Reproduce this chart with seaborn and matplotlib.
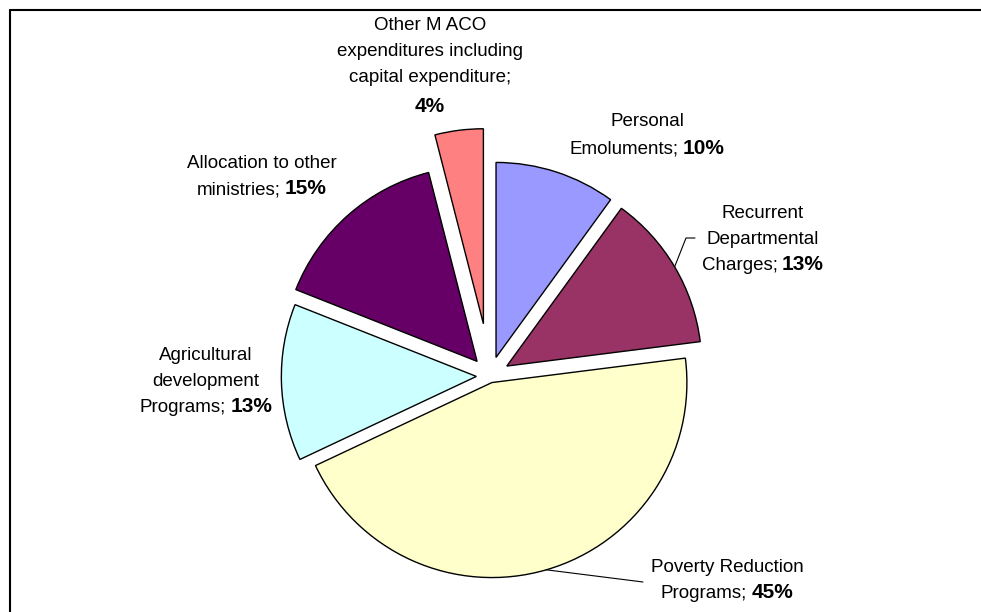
import numpy as np
import matplotlib
matplotlib.use("Agg")
from matplotlib import pyplot as plt
from matplotlib.lines import Line2D
from matplotlib.offsetbox import TextArea, HPacker, AnnotationBbox
import seaborn as sns

# Data
names = ["Personal\nEmoluments", "Recurrent\nDepartmental\nCharges",
         "Poverty Reduction\nPrograms", "Agricultural\ndevelopment\nPrograms",
         "Allocation to other\nministries",
         "Other M ACO\nexpenditures including\ncapital expenditure"]
shares = [10, 13, 45, 13, 15, 4]
colors = ["#9999FF", "#993366", "#FFFFCC", "#CCFFFF", "#660066", "#FF8080"]
explode = [0.1, 0.1, 0.035, 0.07, 0.1, 0.27]  # fraction of radius

# label layout (pixel coords: x, y of first line)
label_pos = [(647, 122), (763, 213), (727, 567), (206, 355), (262, 163), (430, 25)]
line_h = 26
pct_on_new_line = [False, False, False, False, False, True]
# leader lines: elbow/end points in pixels, or None
leaders = [None, [(686, 238), (695, 238)], [(643, 582)], None, None, None]

W, H = 981, 612
cx, cy, R = 490, H - 376, 195

sns.set_theme(style="white")
plt.rcParams['font.family'] = ['Liberation Sans', 'DejaVu Sans']

fig = plt.figure(figsize=(W / 100, H / 100), dpi=100)
ax = fig.add_axes([0, 0, 1, 1])

# matplotlib's explode is in data units, so scale by the radius
wedges, _ = ax.pie(shares, colors=colors, explode=[e * R for e in explode],
                   startangle=90, counterclock=False, center=(cx, cy), radius=R,
                   wedgeprops=dict(edgecolor='black', linewidth=1.0))
ax.set_xlim(0, W)
ax.set_ylim(0, H)
ax.set_aspect('equal')
ax.axis('off')


def put_line(parts, x, py):
    # parts: list of (text, bold)
    boxes = []
    for txt, bold in parts:
        if bold:
            ta = TextArea(txt, textprops=dict(fontsize=15, fontweight='bold', color='black'))
        else:
            ta = TextArea(txt, textprops=dict(fontsize=13.5, color='black'))
        boxes.append(ta)
    pack = HPacker(children=boxes, align='baseline', pad=0, sep=3)
    ab = AnnotationBbox(pack, (x, H - py), frameon=False, box_alignment=(0.5, 0.5),
                        pad=0)
    ax.add_artist(ab)


for i, w in enumerate(wedges):
    lines = names[i].split("\n")
    pct = f"{shares[i]}%"
    x, y0 = label_pos[i]
    for j, ln in enumerate(lines):
        last = j == len(lines) - 1
        if last and not pct_on_new_line[i]:
            put_line([(ln + ";", False), (pct, True)], x, y0 + j * line_h)
        elif last:
            put_line([(ln + ";", False)], x, y0 + j * line_h)
            put_line([(pct, True)], x, y0 + (j + 1) * line_h + 3)
        else:
            put_line([(ln, False)], x, y0 + j * line_h)

    if leaders[i] is not None:
        mid = np.deg2rad((w.theta1 + w.theta2) / 2)
        sx = w.center[0] + w.r * np.cos(mid)
        sy = w.center[1] + w.r * np.sin(mid)
        xs = [sx] + [p[0] for p in leaders[i]]
        ys = [sy] + [H - p[1] for p in leaders[i]]
        ax.plot(xs, ys, color='black', linewidth=0.8)

# chart frame (top and left edges only visible)
fig.add_artist(Line2D([10 / W, 1], [1 - 10 / H, 1 - 10 / H], color='black', linewidth=1.5,
                      transform=fig.transFigure))
fig.add_artist(Line2D([10 / W, 10 / W], [0, 1 - 10 / H], color='black', linewidth=1.5,
                      transform=fig.transFigure))

fig.savefig("out.png", dpi=100, facecolor='white')
